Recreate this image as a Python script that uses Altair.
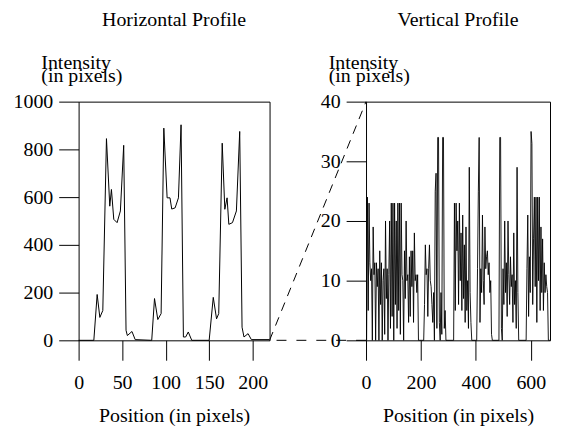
import altair as alt
import pandas as pd

# ---------------- data ----------------
# Horizontal profile
h_x = [0, 17.5, 21.3, 24.4, 27.8, 32, 35.8, 37.7, 40.4, 44.2,
       48, 51.8, 54.5, 56, 61.3, 65, 84, 87.2, 91, 94.8,
       97.9, 101.7, 105, 107, 110.9, 114.7, 117.7, 120.4, 123, 126,
       130, 150, 154.7, 158.5, 161, 165, 168, 170.6, 172.6, 176.8,
       181.3, 185.1, 187.8, 190, 194.7, 198.5, 219]
h_y = [0, 0, 192, 96, 125, 845, 562, 632, 507, 493,
       542, 817, 42, 20, 37, 3, 0, 175, 87, 112,
       889, 597, 597, 550, 555, 597, 903, 14, 14, 35,
       0, 0, 180, 90, 112, 826, 549, 597, 486, 493,
       542, 875, 55, 14, 28, 3, 3]

# Vertical profile, in segments
va_x = [0, 2, 5, 8, 11, 14, 17, 20, 23, 26, 29, 32, 35, 38, 41, 44, 47, 50, 53, 56,
        59, 62, 65, 68, 71, 74, 77, 80, 83, 86, 89, 92, 95, 98, 101, 104, 107, 110, 113, 116,
        119, 122, 125, 128, 131, 134, 137, 140, 143, 146, 149, 152, 155]
va_y = [0, 0, 24, 5, 23, 13, 10, 12, 0, 19, 11, 13, 0, 13, 9, 12, 0, 15, 6, 13,
        0, 10, 12, 1, 20, 7, 12, 0, 11, 20, 2, 23, 4, 23, 0, 23, 6, 20, 2, 23,
        5, 23, 1, 23, 11, 10, 0, 15, 7, 20, 10, 11, 3]
vb_x = [158, 161, 164, 167, 170, 173, 176, 179, 182, 185, 188, 191, 194]
vb_y = [14, 4, 15, 9, 15, 3, 18, 10, 11, 8, 11, 0, 0]
vc_x = [210, 213, 216, 219, 222, 225, 228, 231, 234, 237, 240, 243, 246, 249,
        252, 255, 258, 261, 264, 267, 270, 273, 276, 279, 282, 285, 288, 291]
vc_y = [0, 6, 16, 11, 12, 4, 12, 16, 10, 9, 6, 3, 8, 0,
        25, 28, 2, 34, 34, 3, 0, 8, 1, 34, 34, 2, 5, 0]
vd_x = [319, 322, 325, 328, 331, 334, 337, 340, 343, 346, 349, 352, 355, 358,
        361, 364, 367, 370, 373, 376, 379, 382, 385]
vd_y = [0, 23, 5, 23, 15, 20, 6, 23, 10, 18, 5, 21, 7, 16,
        3, 19, 5, 10, 2, 29, 8, 3, 0]
ve_x = [403, 406, 409, 412, 415, 418, 421, 424, 427, 430, 433, 436, 439, 442,
        445, 448, 451, 454, 457, 460]
ve_y = [0, 12, 25, 34, 3, 12, 8, 21, 10, 6, 19, 12, 14, 15,
        11, 13, 8, 10, 1, 0]
vf_x = [484, 487, 490, 493, 496, 499, 502, 505, 508, 511, 514, 517, 520, 523,
        526, 529, 532, 535, 538, 541, 544, 547, 550, 553, 556]
vf_y = [0, 34, 34, 2, 0, 12, 6, 20, 8, 13, 4, 20, 11, 6,
        14, 9, 11, 3, 18, 6, 10, 2, 29, 8, 0]
vg_x = [583, 586, 589, 592, 595, 598, 601, 604, 607, 610, 613, 616, 619, 622, 625,
        628, 631, 634, 637, 640, 643, 646, 649, 652, 655, 658, 661, 664, 667, 670]
vg_y = [0, 12, 21, 4, 14, 8, 35, 33, 6, 17, 24, 9, 24, 3, 24,
        10, 24, 5, 19, 8, 17, 5, 13, 8, 11, 9, 8, 0, 0, 0]

v_x = va_x + vb_x + vc_x + vd_x + ve_x + vf_x + vg_x
v_y = va_y + vb_y + vc_y + vd_y + ve_y + vf_y + vg_y

h_ticks_x = [0, 50, 100, 150, 200]
h_ticks_y = [0, 200, 400, 600, 800, 1000]
v_ticks_x = [0, 200, 400, 600]
v_ticks_y = [0, 10, 20, 30, 40]

titles = ["Horizontal Profile", "Vertical Profile"]
x_title = "Position (in pixels)"
y_title = ["Intensity", "(in pixels)"]

# ---------------- layout ----------------
FONT = "Liberation Serif"
FS = 20
W_L, W_R, H = 192, 185, 240
GAP = 97
XMAX_L = 219.4
XMAX_R = 670
YMAX_L = 1000
YMAX_R = 40

# connector end (left edge of right panel) in left-panel data units
x_conn_end = XMAX_L + GAP * XMAX_L / W_L

hdf = pd.DataFrame({"x": h_x, "y": h_y})
vdf = pd.DataFrame({"x": v_x, "y": v_y})
diag_df = pd.DataFrame({"x": [XMAX_L], "y": [0], "x2": [x_conn_end], "y2": [YMAX_L]})
flat_df = pd.DataFrame({"x": [x_conn_end], "y": [0], "x2": [XMAX_L], "y2": [0]})


def x_axis(vals):
    return alt.Axis(values=vals, title=x_title, tickSize=20, labelPadding=12,
                    titleY=82, titleBaseline="alphabetic", labelFlush=False,
                    labelOverlap=False, format="d")


def y_axis(vals):
    return alt.Axis(values=vals, title=y_title, tickSize=20, labelPadding=6,
                    titleAngle=0, titleAlign="left", titleBaseline="alphabetic",
                    titleX=-38, titleY=-33, titleLineHeight=13,
                    labelOverlap=False, labelFlush=False, format="d")


def panel_title(t):
    return alt.Title(t, frame="group", offset=7, baseline="alphabetic",
                     anchor="middle", fontSize=FS, fontWeight="normal",
                     font=FONT, color="black")


left_line = alt.Chart(hdf).mark_line(color="black", strokeWidth=1).encode(
    x=alt.X("x:Q", scale=alt.Scale(domain=[0, XMAX_L], nice=False, zero=False), axis=x_axis(h_ticks_x)),
    y=alt.Y("y:Q", scale=alt.Scale(domain=[0, YMAX_L], nice=False), axis=y_axis(h_ticks_y)),
)
diag = alt.Chart(diag_df).mark_rule(color="black", strokeWidth=1, strokeDash=[9, 7]).encode(
    x="x:Q", y="y:Q", x2="x2:Q", y2="y2:Q"
)
flat = alt.Chart(flat_df).mark_rule(color="black", strokeWidth=1, strokeDash=[10, 10]).encode(
    x="x:Q", y="y:Q", x2="x2:Q", y2="y2:Q"
)
left = alt.layer(left_line, diag, flat).properties(width=W_L, height=H, title=panel_title(titles[0]))

right = alt.Chart(vdf).mark_line(color="black", strokeWidth=0.9).encode(
    x=alt.X("x:Q", scale=alt.Scale(domain=[0, XMAX_R], nice=False), axis=x_axis(v_ticks_x)),
    y=alt.Y("y:Q", scale=alt.Scale(domain=[0, YMAX_R], nice=False), axis=y_axis(v_ticks_y)),
).properties(width=W_R, height=H, title=panel_title(titles[1]))

chart = alt.hconcat(left, right, spacing=GAP, bounds="flush").properties(
    padding={"left": 4, "top": 0, "right": 0, "bottom": 0}
).configure(font=FONT).configure_view(
    stroke="black", strokeWidth=1
).configure_axis(
    labelFont=FONT, labelFontSize=FS, labelColor="black",
    titleFont=FONT, titleFontSize=FS, titleFontWeight="normal", titleColor="black",
    tickColor="black", tickWidth=1, grid=False, domain=False,
)

chart.save("out.html", embed_options={"renderer": "svg", "actions": False})
